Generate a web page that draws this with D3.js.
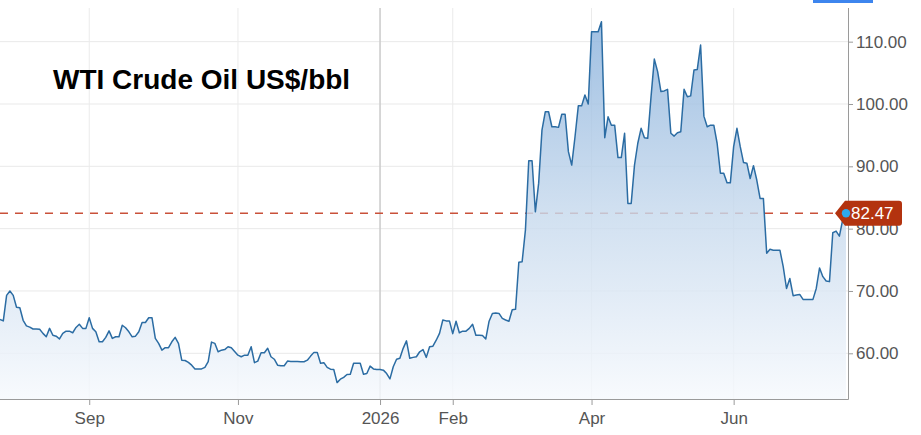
<!DOCTYPE html>
<html>
<head>
<meta charset="utf-8">
<script src="https://cdn.jsdelivr.net/npm/d3@7"></script>
<style>
  body { margin: 0; background: #fff; }
  svg { display: block; }
  text { font-family: "Liberation Sans", Arial, sans-serif; }
</style>
</head>
<body>
<svg id="chart" width="921" height="435"></svg>
<script>
// ---------------- DATA ----------------
const chartTitle = "WTI Crude Oil US$/bbl";
const startDate = "2025-07-24";   // first trading day shown
const endDate = "2026-07-17";     // last trading day shown
// daily closes (trading days, Mon-Fri)
const closes = [
  65.44, 65.2, 69.3, 70.0, 69.3, 67.4, 67.3, 65.3, 64.4, 64.2,
  63.9, 63.9, 63.85, 63.2, 62.65, 64.0, 62.9, 62.75, 62.3, 63.2,
  63.55, 63.55, 63.3, 64.15, 64.65, 64.0, 64.0, 65.7, 64.0, 63.45,
  61.85, 61.85, 62.55, 63.6, 62.4, 62.65, 62.65, 64.5, 64.1, 63.45,
  62.65, 62.75, 63.45, 64.95, 64.95, 65.7, 65.7, 62.4, 61.6, 60.5,
  60.9, 60.9, 61.85, 62.55, 61.6, 58.9, 58.85, 58.55, 58.1, 57.5,
  57.5, 57.5, 57.75, 58.65, 61.8,
  61.6, 60.25, 60.5, 60.6, 61.05, 60.9, 60.3, 59.7, 59.45, 59.7,
  59.7, 61.05, 58.5, 58.75, 60.1, 60.1, 60.8, 59.45, 59.05, 58.1,
  58.0, 58.0, 58.75, 58.7, 58.7, 58.7, 58.65, 58.65, 58.9, 59.55,
  60.15, 60.15, 58.4, 58.5, 57.75, 57.45, 57.4, 55.3, 55.85, 56.15,
  56.6, 56.65, 58.4, 58.4, 58.4, 56.65, 56.75, 57.95, 57.5, 57.4,
  57.4, 57.3, 56.75, 55.9, 57.85, 59.05, 59.2, 60.8, 62.0, 59.2,
  59.35, 59.45, 60.25, 60.6, 59.35, 61.05,
  61.15, 62.1, 63.2, 65.35, 65.2, 65.2, 63.15, 65.15, 63.3, 63.55,
  63.55, 64.0, 64.65, 62.9, 62.9, 62.85, 62.3, 65.15, 66.4, 66.45,
  66.4, 65.6, 65.35, 65.15, 67.0, 67.05, 74.6, 74.7, 79.8, 90.9,
  90.9, 82.7, 87.3, 95.8, 98.75, 98.75, 96.35, 96.35, 96.25, 98.35,
  98.35, 92.35, 90.2, 94.75, 99.7, 99.7, 101.45, 100.0, 111.6, 111.6,
  111.6, 113.2, 94.6, 97.95, 96.6, 96.6, 91.4, 91.4, 95.3, 84.05,
  84.05, 90.2, 93.7, 96.1,
  94.6, 94.5, 101.15, 107.2, 105.2, 102.0, 102.1, 102.35, 95.3, 94.85,
  95.4, 95.55, 102.35, 101.15, 101.3, 105.45, 105.55, 109.45, 98.05, 96.35,
  96.6, 96.6, 93.7, 88.9, 88.9, 87.35, 87.35, 93.15, 96.1, 93.15,
  90.6, 90.5, 88.05, 90.1, 87.8, 84.85, 84.85, 76.05, 76.7, 76.55,
  76.55, 76.55, 73.9, 70.4, 72.0, 69.25, 69.35, 69.45, 68.65, 68.65,
  68.65, 68.65, 70.4, 73.7, 72.3, 71.6, 71.5, 79.35, 79.6, 78.8,
  81.4, 82.47
];
const lastPrice = 82.47;
const yTicks = [60, 70, 80, 90, 100, 110];
const xTickMonths = ["2025-09", "2025-11", "2026-01", "2026-02", "2026-04", "2026-06"];

// ---------------- BUILD ----------------
const parseDay = d3.utcParse("%Y-%m-%d");
const parseMonth = d3.utcParse("%Y-%m");
const tradingDays = d3.utcDay
  .range(parseDay(startDate), d3.utcDay.offset(parseDay(endDate), 1))
  .filter(d => d.getUTCDay() !== 0 && d.getUTCDay() !== 6);
const n = Math.min(tradingDays.length, closes.length);
const data = d3.range(n).map(i => ({ date: tradingDays[i], value: closes[i] }));

const W = 921, H = 435;
const plotLeft = 0, plotRight = 848, plotTop = 8, plotBottom = 399;

const svg = d3.select("#chart");

const x = d3.scalePoint()
  .domain(data.map(d => +d.date))
  .range([plotLeft, 846]);

const y = d3.scaleLinear()
  .domain([52.67, 115.4])
  .range([plotBottom, plotTop]);

const xTickValues = xTickMonths.map(m => {
  const t = parseMonth(m);
  const d = data.find(p => p.date >= t);
  return +d.date;
});
const fmtMonth = d3.utcFormat("%b");
const fmtYear = d3.utcFormat("%Y");
const xTickFormat = v => {
  const d = new Date(v);
  return d.getUTCMonth() === 0 ? fmtYear(d) : fmtMonth(d);
};

// gradient
const defs = svg.append("defs");
const grad = defs.append("linearGradient")
  .attr("id", "areaGrad")
  .attr("gradientUnits", "userSpaceOnUse")
  .attr("x1", 0).attr("x2", 0)
  .attr("y1", y(d3.max(closes))).attr("y2", plotBottom);
grad.append("stop").attr("offset", "0%").attr("stop-color", "rgb(139,178,220)");
grad.append("stop").attr("offset", "50%").attr("stop-color", "rgb(198,217,237)");
grad.append("stop").attr("offset", "100%").attr("stop-color", "rgb(246,249,253)");

// top blue button strip
svg.append("rect")
  .attr("x", 813).attr("y", 0).attr("width", 60).attr("height", 3)
  .attr("fill", "#3d85ee");

// horizontal grid
svg.append("g").selectAll("line").data(yTicks).join("line")
  .attr("x1", plotLeft).attr("x2", plotRight)
  .attr("y1", d => y(d)).attr("y2", d => y(d))
  .attr("stroke", "#e9e9e9").attr("stroke-width", 1);

// vertical grid
svg.append("g").selectAll("line").data(xTickValues).join("line")
  .attr("x1", d => x(d)).attr("x2", d => x(d))
  .attr("y1", plotTop).attr("y2", plotBottom)
  .attr("stroke", d => new Date(d).getUTCMonth() === 0 ? "#cdcdcd" : "#ebebeb")
  .attr("stroke-width", d => new Date(d).getUTCMonth() === 0 ? 1.6 : 1);

// last price dashed line (under the area)
svg.append("line")
  .attr("x1", plotLeft).attr("x2", 834)
  .attr("y1", y(lastPrice)).attr("y2", y(lastPrice))
  .attr("stroke", "#c9513a").attr("stroke-width", 1.3)
  .attr("stroke-dasharray", "8,7");

// area
const area = d3.area()
  .x(d => x(+d.date))
  .y0(plotBottom)
  .y1(d => y(d.value));
svg.append("path")
  .datum(data)
  .attr("d", area)
  .attr("fill", "url(#areaGrad)")
  .attr("fill-opacity", 0.82);

// line
const line = d3.line()
  .x(d => x(+d.date))
  .y(d => y(d.value));
svg.append("path")
  .datum(data)
  .attr("d", line)
  .attr("fill", "none")
  .attr("stroke", "#2b6ca3")
  .attr("stroke-width", 1.5)
  .attr("stroke-linejoin", "round");

// axes
const axisColor = "#9a9a9a";
const textColor = "#555";

const yAxis = svg.append("g")
  .attr("transform", `translate(${plotRight},0)`)
  .call(d3.axisRight(y).tickValues(yTicks).tickSize(5).tickSizeOuter(0)
    .tickPadding(3).tickFormat(d3.format(".2f")));
yAxis.select(".domain").remove();
yAxis.selectAll(".tick line").attr("stroke", axisColor);
yAxis.selectAll(".tick text")
  .attr("fill", textColor)
  .style("font-size", "17px");

const xAxis = svg.append("g")
  .attr("transform", `translate(0,${plotBottom})`)
  .call(d3.axisBottom(x).tickValues(xTickValues).tickSize(6).tickSizeOuter(0)
    .tickPadding(7).tickFormat(xTickFormat));
xAxis.select(".domain").remove();
xAxis.selectAll(".tick line").attr("stroke", axisColor);
xAxis.selectAll(".tick text")
  .attr("fill", textColor)
  .style("font-size", "17px");

// axis lines
svg.append("line")
  .attr("x1", plotLeft).attr("x2", plotRight + 0.5)
  .attr("y1", plotBottom + 0.5).attr("y2", plotBottom + 0.5)
  .attr("stroke", axisColor).attr("stroke-width", 1);
svg.append("line")
  .attr("x1", plotRight + 0.5).attr("x2", plotRight + 0.5)
  .attr("y1", plotTop).attr("y2", plotBottom + 0.5)
  .attr("stroke", axisColor).attr("stroke-width", 1);

// title
svg.append("text")
  .attr("x", 53).attr("y", 89)
  .attr("fill", "#000")
  .style("font-size", "28px")
  .style("font-weight", "bold")
  .text(chartTitle);

// last price label
const ly = y(lastPrice);
const bx0 = 845, bx1 = 902, tip = 835, hh = 12.5, r = 3;
svg.append("path")
  .attr("d", `M${tip},${ly} L${bx0},${ly - hh} L${bx1 - r},${ly - hh} Q${bx1},${ly - hh} ${bx1},${ly - hh + r}
              L${bx1},${ly + hh - r} Q${bx1},${ly + hh} ${bx1 - r},${ly + hh} L${bx0},${ly + hh} Z`)
  .attr("fill", "#b3330f");
svg.append("text")
  .attr("x", 851).attr("y", ly)
  .attr("dy", "0.36em")
  .attr("fill", "#fff")
  .style("font-size", "17px")
  .text(d3.format(".2f")(lastPrice));

const last = data[data.length - 1];
svg.append("circle")
  .attr("cx", x(+last.date)).attr("cy", y(last.value))
  .attr("r", 4.2)
  .attr("fill", "#2fa9ee");
</script>
</body>
</html>
